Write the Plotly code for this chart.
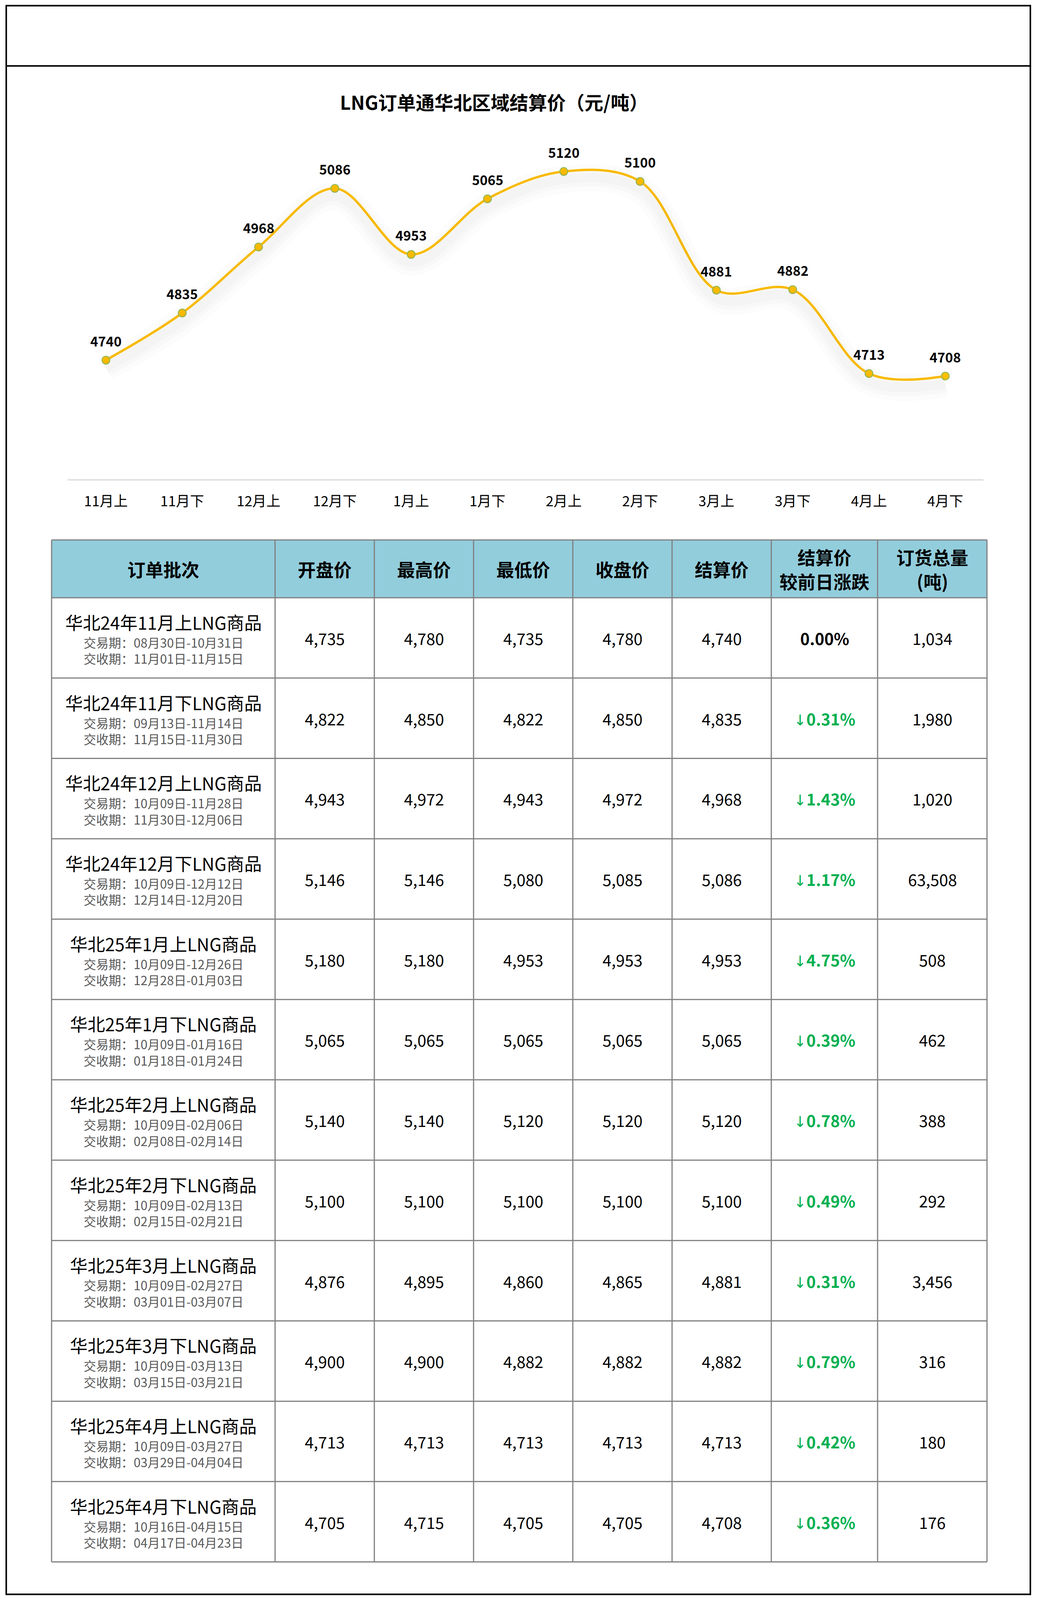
import plotly.graph_objects as go

# ---------------- data ----------------
periods = ["11月上", "11月下", "12月上", "12月下", "1月上", "1月下",
           "2月上", "2月下", "3月上", "3月下", "4月上", "4月下"]
batch_names = ["华北24年11月上LNG商品", "华北24年11月下LNG商品", "华北24年12月上LNG商品",
               "华北24年12月下LNG商品", "华北25年1月上LNG商品", "华北25年1月下LNG商品",
               "华北25年2月上LNG商品", "华北25年2月下LNG商品", "华北25年3月上LNG商品",
               "华北25年3月下LNG商品", "华北25年4月上LNG商品", "华北25年4月下LNG商品"]
trade_period = ["08月30日-10月31日", "09月13日-11月14日", "10月09日-11月28日",
                "10月09日-12月12日", "10月09日-12月26日", "10月09日-01月16日",
                "10月09日-02月06日", "10月09日-02月13日", "10月09日-02月27日",
                "10月09日-03月13日", "10月09日-03月27日", "10月16日-04月15日"]
delivery_period = ["11月01日-11月15日", "11月15日-11月30日", "11月30日-12月06日",
                   "12月14日-12月20日", "12月28日-01月03日", "01月18日-01月24日",
                   "02月08日-02月14日", "02月15日-02月21日", "03月01日-03月07日",
                   "03月15日-03月21日", "03月29日-04月04日", "04月17日-04月23日"]
open_price = [4735, 4822, 4943, 5146, 5180, 5065, 5140, 5100, 4876, 4900, 4713, 4705]
high_price = [4780, 4850, 4972, 5146, 5180, 5065, 5140, 5100, 4895, 4900, 4713, 4715]
low_price = [4735, 4822, 4943, 5080, 4953, 5065, 5120, 5100, 4860, 4882, 4713, 4705]
close_price = [4780, 4850, 4972, 5085, 4953, 5065, 5120, 5100, 4865, 4882, 4713, 4705]
settle_price = [4740, 4835, 4968, 5086, 4953, 5065, 5120, 5100, 4881, 4882, 4713, 4708]
change_pct = [0.00, 0.31, 1.43, 1.17, 4.75, 0.39, 0.78, 0.49, 0.31, 0.79, 0.42, 0.36]
change_dir = ["", "↓", "↓", "↓", "↓", "↓", "↓", "↓", "↓", "↓", "↓", "↓"]
order_volume = [1034, 1980, 1020, 63508, 508, 462, 388, 292, 3456, 316, 180, 176]

headers = [["订单批次"], ["开盘价"], ["最高价"], ["最低价"], ["收盘价"], ["结算价"],
           ["结算价", "较前日涨跌"], ["订货总量", "(吨)"]]
chart_title = "LNG订单通华北区域结算价（元/吨）"

# ---------------- layout constants ----------------
# design coordinates follow the 2654 x 4540 reference; the visible viewport is
# 4096 px tall, so the page is rendered at that height (vertical fractions kept)
W, H_REF = 2654, 4540
H_OUT = 4096
SY = H_OUT / H_REF
FS = 0.95  # font scale to fit the slightly shorter page

FONT = "Noto Sans CJK SC"
LINE_COLOR = "#FFC000"
GREEN = "#00B050"
HEADER_FILL = "#92CDDC"
GRID = "#808080"

COL_EDGES = [132, 704, 958, 1212, 1466, 1720, 1974, 2246, 2526]
TABLE_TOP = 1532
HEADER_H = 164
ROW_H = 228

PLOT_L, PLOT_R = 173.4, 2517.0
PLOT_T, PLOT_B = 374.0, 1360.0
Y_RANGE = [4500, 5200]


def px(x):
    return x / W


def py(y):
    return 1 - y / H_REF


def fs(s):
    return round(s * FS)


fig = go.Figure()

# soft shadow under the line (drawn on an overlaid, slightly shifted axis)
shift_units = 22 * (Y_RANGE[1] - Y_RANGE[0]) / (PLOT_B - PLOT_T)
for wdt, alpha in [(70, 0.010), (45, 0.014), (25, 0.016)]:
    fig.add_trace(go.Scatter(x=periods, y=settle_price, mode="lines", yaxis="y3",
                             line=dict(color=f"rgba(0,0,0,{alpha})", width=wdt,
                                       shape="spline", smoothing=1.0),
                             hoverinfo="skip", showlegend=False))

fig.add_trace(go.Scatter(
    x=periods, y=settle_price, mode="lines+markers",
    line=dict(color=LINE_COLOR, width=6, shape="spline", smoothing=1.0),
    marker=dict(size=20, color=LINE_COLOR, line=dict(color="#9BBB59", width=2.5)),
    hoverinfo="skip", showlegend=False))

annotations = []
for p, v in zip(periods, settle_price):
    annotations.append(dict(x=p, y=v, xref="x", yref="y", text=f"<b>{v}</b>",
                            showarrow=False, yshift=55 * SY,
                            font=dict(family=FONT, size=fs(36), color="#000000")))

annotations.append(dict(x=px(1264), y=py(288), xref="paper", yref="paper",
                        text=f"<b>{chart_title}</b>", showarrow=False,
                        xanchor="center", yanchor="middle",
                        font=dict(family=FONT, size=fs(50), color="#000000")))

shapes = []
shapes.append(dict(type="rect", xref="paper", yref="paper", x0=px(16), x1=px(2637),
                   y0=py(4524), y1=py(16), line=dict(color="#000000", width=4)))
shapes.append(dict(type="line", xref="paper", yref="paper", x0=px(16), x1=px(2637),
                   y0=py(187), y1=py(187), line=dict(color="#000000", width=4)))

n_rows = len(batch_names)
table_bottom = TABLE_TOP + HEADER_H + n_rows * ROW_H

shapes.append(dict(type="rect", xref="paper", yref="paper", x0=px(COL_EDGES[0]),
                   x1=px(COL_EDGES[-1]), y0=py(TABLE_TOP + HEADER_H), y1=py(TABLE_TOP),
                   fillcolor=HEADER_FILL, line=dict(width=0), layer="below"))
for r in range(n_rows + 2):
    yy = TABLE_TOP if r == 0 else TABLE_TOP + HEADER_H + (r - 1) * ROW_H
    shapes.append(dict(type="line", xref="paper", yref="paper", x0=px(COL_EDGES[0]),
                       x1=px(COL_EDGES[-1]), y0=py(yy), y1=py(yy),
                       line=dict(color=GRID, width=3)))
for xe in COL_EDGES:
    shapes.append(dict(type="line", xref="paper", yref="paper", x0=px(xe), x1=px(xe),
                       y0=py(TABLE_TOP), y1=py(table_bottom),
                       line=dict(color=GRID, width=3)))

col_centers = [(COL_EDGES[i] + COL_EDGES[i + 1]) / 2 for i in range(len(COL_EDGES) - 1)]

hdr_mid = TABLE_TOP + HEADER_H / 2
for cx, lines in zip(col_centers, headers):
    offs = [0] if len(lines) == 1 else [-34, 34]
    for ln, off in zip(lines, offs):
        annotations.append(dict(x=px(cx), y=py(hdr_mid + off), xref="paper", yref="paper",
                                text=f"<b>{ln}</b>", showarrow=False,
                                xanchor="center", yanchor="middle",
                                font=dict(family=FONT, size=fs(48), color="#000000")))

for r in range(n_rows):
    mid = TABLE_TOP + HEADER_H + r * ROW_H + ROW_H / 2
    annotations.append(dict(x=px(col_centers[0]), y=py(mid - 45), xref="paper", yref="paper",
                            text=batch_names[r], showarrow=False, xanchor="center",
                            yanchor="middle", font=dict(family=FONT, size=fs(47), color="#000000")))
    annotations.append(dict(x=px(col_centers[0]), y=py(mid + 12), xref="paper", yref="paper",
                            text="交易期：" + trade_period[r], showarrow=False, xanchor="center",
                            yanchor="middle", font=dict(family=FONT, size=fs(33.5), color="#595959")))
    annotations.append(dict(x=px(col_centers[0]), y=py(mid + 58), xref="paper", yref="paper",
                            text="交收期：" + delivery_period[r], showarrow=False, xanchor="center",
                            yanchor="middle", font=dict(family=FONT, size=fs(33.5), color="#595959")))
    vals = [open_price[r], high_price[r], low_price[r], close_price[r], settle_price[r]]
    for ci, v in enumerate(vals):
        annotations.append(dict(x=px(col_centers[ci + 1]), y=py(mid), xref="paper", yref="paper",
                                text=f"{v:,}", showarrow=False, xanchor="center",
                                yanchor="middle", font=dict(family=FONT, size=fs(43), color="#000000")))
    if change_dir[r]:
        ptxt = (f'<span style="font-family:DejaVu Sans;font-weight:normal;font-size:{fs(40)}px">'
                f'{change_dir[r]}</span><b>{change_pct[r]:.2f}%</b>')
        pcol = GREEN
    else:
        ptxt = f"<b>{change_pct[r]:.2f}%</b>"
        pcol = "#000000"
    annotations.append(dict(x=px(col_centers[6]), y=py(mid), xref="paper", yref="paper",
                            text=ptxt, showarrow=False, xanchor="center", yanchor="middle",
                            font=dict(family=FONT, size=fs(43), color=pcol)))
    annotations.append(dict(x=px(col_centers[7]), y=py(mid), xref="paper", yref="paper",
                            text=f"{order_volume[r]:,}", showarrow=False, xanchor="center",
                            yanchor="middle", font=dict(family=FONT, size=fs(43), color="#000000")))

fig.update_layout(
    template="none",
    width=W, height=H_OUT,
    margin=dict(l=0, r=0, t=0, b=0, pad=0),
    paper_bgcolor="#FFFFFF", plot_bgcolor="rgba(0,0,0,0)",
    showlegend=False,
    xaxis=dict(domain=[px(PLOT_L), px(PLOT_R)], type="category", range=[-0.5, 11.5],
               showgrid=False, zeroline=False, showline=True, linecolor="#D9D9D9", linewidth=3,
               ticks="", ticklabelstandoff=round(26 * SY),
               tickfont=dict(family=FONT, size=fs(38), color="#000000"), fixedrange=True),
    yaxis=dict(domain=[py(PLOT_B), py(PLOT_T)], range=Y_RANGE, visible=False, fixedrange=True),
    yaxis3=dict(overlaying="y", range=[Y_RANGE[0] + shift_units, Y_RANGE[1] + shift_units],
                visible=False, fixedrange=True),
    shapes=shapes,
    annotations=annotations,
)

fig.write_html("out.html", config={"displayModeBar": False},
               post_script="document.body.style.margin='0';document.body.style.overflow='hidden';")
